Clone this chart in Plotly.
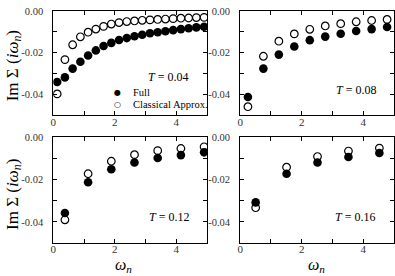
import plotly.graph_objects as go

# ---- data ----
w_004 = [0.1257, 0.3770, 0.6283, 0.8796, 1.1310, 1.3823, 1.6336, 1.8850, 2.1363, 2.3876,
         2.6389, 2.8903, 3.1416, 3.3929, 3.6442, 3.8956, 4.1469, 4.3982, 4.6496, 4.9009]
full_004 = [-0.0340, -0.0318, -0.0276, -0.0243, -0.0213, -0.0189, -0.0168, -0.0153, -0.0139, -0.0130,
            -0.0121, -0.0114, -0.0107, -0.0102, -0.0097, -0.0092, -0.0087, -0.0083, -0.0079, -0.0076]
clas_004 = [-0.0397, -0.0233, -0.0162, -0.0124, -0.0102, -0.0087, -0.0074, -0.0063, -0.0056, -0.0051,
            -0.0048, -0.0045, -0.0043, -0.0041, -0.0039, -0.0037, -0.0035, -0.0034, -0.0032, -0.0031]

w_008 = [0.2513, 0.7540, 1.2566, 1.7593, 2.2619, 2.7646, 3.2673, 3.7699, 4.2726, 4.7752]
full_008 = [-0.0412, -0.0276, -0.0209, -0.0170, -0.0140, -0.0123, -0.0109, -0.0096, -0.0087, -0.0077]
clas_008 = [-0.0458, -0.0217, -0.0145, -0.0110, -0.0088, -0.0072, -0.0061, -0.0052, -0.0046, -0.0041]

w_012 = [0.3770, 1.1310, 1.8850, 2.6389, 3.3929, 4.1469, 4.9009]
full_012 = [-0.0358, -0.0213, -0.0152, -0.0120, -0.0099, -0.0085, -0.0072]
clas_012 = [-0.0390, -0.0173, -0.0114, -0.0083, -0.0064, -0.0054, -0.0046]

w_016 = [0.5027, 1.5080, 2.5133, 3.5186, 4.5239]
full_016 = [-0.0308, -0.0173, -0.0120, -0.0094, -0.0075]
clas_016 = [-0.0333, -0.0142, -0.0092, -0.0066, -0.0052]

panel_T = ["0.04", "0.08", "0.12", "0.16"]
x_ticks = [0, 1, 2, 3, 4, 5]
x_ticktext = ["0", "", "2", "", "4", ""]
y_ticks = [0.0, -0.01, -0.02, -0.03, -0.04, -0.05]
y_ticktext = ["0.00", "", "-0.02", "", "-0.04", ""]
legend_labels = ["Full", "Classical Approx."]

panels = [(w_004, full_004, clas_004), (w_008, full_008, clas_008),
          (w_012, full_012, clas_012), (w_016, full_016, clas_016)]

W, H = 395, 276
serif = "Liberation Serif"

fig = go.Figure()
for i, (w, full, clas) in enumerate(panels):
    xa = "x" if i == 0 else f"x{i+1}"
    ya = "y" if i == 0 else f"y{i+1}"
    fig.add_trace(go.Scatter(x=w, y=clas, mode="markers", xaxis=xa, yaxis=ya,
                             name=legend_labels[1], showlegend=False,
                             marker=dict(size=7.6, color="white",
                                         line=dict(color="black", width=1.2))))
    fig.add_trace(go.Scatter(x=w, y=full, mode="markers", xaxis=xa, yaxis=ya,
                             name=legend_labels[0], showlegend=False,
                             marker=dict(size=8.6, color="black",
                                         line=dict(color="black", width=0))))

# domains in pixels
xd = [(50.7, 205.7), (239.0, 394.0)]
yd = [(6.0, 112.5), (134.5, 242.5)]

def px_x(a, b):
    return [a / W, b / W]

def px_y(top, bottom):
    return [1 - bottom / H, 1 - top / H]

common_x = dict(range=[0, 5], tickmode="array", tickvals=x_ticks, ticktext=x_ticktext,
                ticks="inside", ticklen=4, tickwidth=1, tickcolor="black",
                showline=True, linecolor="black", linewidth=1, mirror="allticks",
                showgrid=False, zeroline=False,
                tickfont=dict(family=serif, size=11, color="#333"), ticklabelstandoff=-4)
common_y = dict(range=[-0.05, 0.0], tickmode="array", tickvals=y_ticks, ticktext=y_ticktext,
                ticks="inside", ticklen=4, tickwidth=1, tickcolor="black",
                showline=True, linecolor="black", linewidth=1, mirror="allticks",
                showgrid=False, zeroline=False,
                tickfont=dict(family=serif, size=10.5, color="#333"), ticklabelstandoff=7)

layout = dict(width=W, height=H, margin=dict(l=0, r=0, t=0, b=0),
              paper_bgcolor="white", plot_bgcolor="white", showlegend=False)
for i in range(4):
    col = i % 2
    row = i // 2
    xk = "xaxis" if i == 0 else f"xaxis{i+1}"
    yk = "yaxis" if i == 0 else f"yaxis{i+1}"
    ya = "y" if i == 0 else f"y{i+1}"
    xa = "x" if i == 0 else f"x{i+1}"
    layout[xk] = dict(common_x, domain=px_x(*xd[col]), anchor=ya)
    layout[yk] = dict(common_y, domain=px_y(*yd[row]), anchor=xa)
fig.update_layout(**layout)

ann = []
# T labels
t_pos = [(166, 73), (356, 87), (167, 216), (355, 216)]
for (px, py), t in zip(t_pos, panel_T):
    ann.append(dict(x=px / W, y=1 - py / H, xref="paper", yref="paper",
                    text=f"<i>T</i> = {t}", showarrow=False,
                    font=dict(family=serif, size=12, color="black"),
                    xanchor="center", yanchor="middle"))
# y titles
for cy in [62, 193]:
    ann.append(dict(x=10.5 / W, y=1 - cy / H, xref="paper", yref="paper",
                    text="Im Σ (<i>iω<sub>n</sub></i>)", showarrow=False, textangle=-90,
                    font=dict(family=serif, size=17, color="black"),
                    xanchor="center", yanchor="middle"))
# x titles
for cx in [121, 316]:
    ann.append(dict(x=cx / W, y=1 - 265 / H, xref="paper", yref="paper",
                    text="<i>ω<sub>n</sub></i>", showarrow=False,
                    font=dict(family=serif, size=16, color="black"),
                    xanchor="center", yanchor="middle"))
# legend (key)
for sym, lab, ly in [("●", legend_labels[0], 88.7), ("○", legend_labels[1], 101.0)]:
    ann.append(dict(x=115.7 / W, y=1 - ly / H, xref="paper", yref="paper",
                    text=sym, showarrow=False,
                    font=dict(family="DejaVu Sans", size=8, color="black"),
                    xanchor="center", yanchor="middle"))
    ann.append(dict(x=129 / W, y=1 - ly / H, xref="paper", yref="paper",
                    text=lab, showarrow=False,
                    font=dict(family=serif, size=10.5, color="black"),
                    xanchor="left", yanchor="middle"))
fig.update_layout(annotations=ann)

fig.write_html("out.html", config={"displayModeBar": False},
               post_script="document.body.style.margin='0';document.body.style.padding='0';")
